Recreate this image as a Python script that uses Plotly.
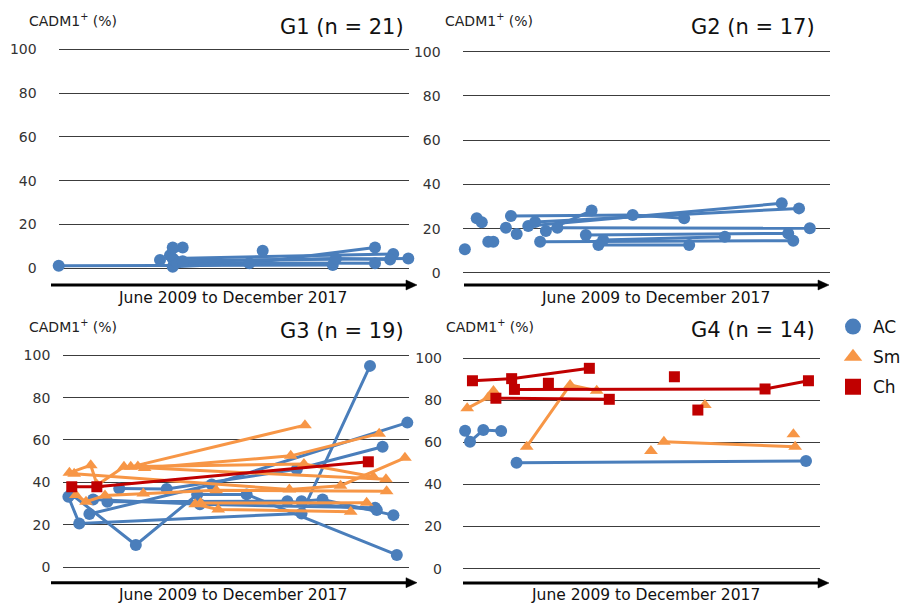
import plotly.graph_objects as go

# x = months since June 2009 (0 = Jun 2009, 102 = Dec 2017); y = CADM1+ (%)
# each inner list is one patient's series of measurements

G1_AC = [
    [(0, 1.2), (79.8, 1.5)],
    [(33.2, 0.7), (55.5, 2.3), (92.1, 9.5)],
    [(33.2, 4.5), (97.4, 6.5)],
    [(33.9, 3.5), (101.8, 4.5)],
    [(34.5, 2.5), (92.1, 2.3)],
    [(32.4, 6.0), (36.1, 9.5)],
    [(36.1, 3.2), (80.7, 4.5), (96.5, 4.0)],
    [(29.5, 3.8)],
    [(33.2, 9.5)],
    [(59.4, 8.0)],
]
G1_Sm = []
G1_Ch = []

G2_AC = [
    [(3.9, 24.7), (5.3, 22.9)],
    [(13.4, 25.8), (47.2, 26.2), (61.5, 24.7)],
    [(18.2, 21.2), (88.6, 31.5)],
    [(20.1, 23.0), (93.4, 29.2)],
    [(23.1, 19.0), (35.8, 28.2)],
    [(26.3, 20.5), (96.4, 20.2)],
    [(34.2, 17.2), (90.4, 17.9)],
    [(39.0, 14.9), (72.8, 16.4)],
    [(21.5, 14.1), (91.8, 14.6)],
    [(37.7, 12.7), (62.9, 12.7)],
    [(0.6, 10.7)],
    [(7.1, 14.1)],
    [(8.5, 14.1)],
    [(12.0, 20.5)],
    [(15.0, 17.6)],
]
G2_Sm = []
G2_Ch = []

G3_AC = [
    [(1.5, 33.2), (4.7, 20.6), (70.3, 25.3), (90.5, 95.0)],
    [(7.7, 25.0), (43.8, 39.0), (101.5, 68.2)],
    [(2.3, 34.5), (21.4, 10.4), (39.5, 34.3), (54.1, 34.3), (98.4, 5.7)],
    [(8.8, 31.9), (40.3, 29.6), (92.0, 28.0)],
    [(13.0, 30.8), (66.1, 31.1), (92.5, 26.9)],
    [(16.5, 37.1), (30.5, 36.8), (68.9, 46.2), (94.2, 56.8)],
    [(70.3, 31.1), (76.5, 31.9), (97.4, 24.5)],
]
G3_Sm = [
    [(1.8, 44.5), (8.1, 48.1), (10.0, 38.7), (17.9, 47.3), (95.2, 41.4)],
    [(3.2, 44.0), (66.7, 36.6), (81.8, 38.4), (100.8, 51.6)],
    [(19.9, 47.3), (71.3, 67.0)],
    [(22.0, 47.5), (71.0, 48.6), (91.5, 42.6)],
    [(24.0, 46.8), (67.1, 52.5), (93.2, 63.0)],
    [(3.7, 34.0), (6.7, 30.8), (12.3, 33.8), (23.6, 34.7), (45.1, 36.3), (95.4, 35.8)],
    [(38.9, 29.6), (45.7, 27.2), (84.8, 26.1)],
    [(40.5, 30.2), (89.5, 30.3)],
]
G3_Ch = [
    [(2.5, 37.9), (9.9, 37.9), (90.0, 49.7)],
]

G4_AC = [
    [(0.6, 65.5), (2.0, 60.3), (5.8, 65.8), (10.9, 65.3)],
    [(15.3, 50.3), (98.0, 51.1)],
]
G4_Sm = [
    [(1.2, 76.1), (7.2, 81.3), (8.7, 84.3)],
    [(18.2, 57.9), (30.6, 87.2), (38.2, 84.5)],
    [(57.4, 60.3), (94.9, 57.9)],
    [(53.7, 55.9)],
    [(69.1, 77.7)],
    [(94.4, 63.8)],
]
G4_Ch = [
    [(2.7, 89.2), (13.9, 90.2), (36.1, 95.1)],
    [(14.7, 85.1), (86.3, 85.3), (98.7, 89.2)],
    [(9.4, 80.9), (41.8, 80.4)],
    [(24.4, 88.0)],
    [(60.4, 91.1)],
    [(67.1, 75.3)],
]

PANEL_TITLES = ["G1 (n = 21)", "G2 (n = 17)", "G3 (n = 19)", "G4 (n = 14)"]
X_LABEL = "June 2009 to December 2017"
Y_LABEL = "CADM1<sup>+</sup> (%)"
Y_TICKS = [0, 20, 40, 60, 80, 100]
GROUP_NAMES = ["AC", "Sm", "Ch"]

# ---------------- styling / layout ----------------
OFF = 8                     # page body margin
W, H = 909 - OFF, 604 - OFF
FONT = "DejaVu Sans"
COL = {"AC": "#4A7EBB", "Sm": "#F79646", "Ch": "#C00000"}
SYM = {"AC": "circle", "Sm": "triangle-up", "Ch": "square"}
MSZ = {"AC": 12, "Sm": 12, "Ch": 11}


def px(x):
    return (x - OFF) / W


def py(y):
    return 1 - (y - OFF) / H


# pixel geometry (window pixels) of each panel
PANELS = [
    dict(x0=58.7, x1=409, p0=268.3, p100=49.3, std=21, arrow=(51, 417, 285),
         lab=(27, 20), title=(406, 27), xl=(232, 298)),
    dict(x0=462.7, x1=830, p0=273, p100=51.7, std=21, arrow=(464, 829, 285),
         lab=(443, 20), title=(817, 27), xl=(655, 298)),
    dict(x0=63.3, x1=409, p0=567, p100=355.3, std=12, arrow=(51, 417, 582.7),
         lab=(27, 326), title=(406, 331), xl=(232, 595)),
    dict(x0=463, x1=820, p0=568.7, p100=358, std=20, arrow=(463, 829, 583),
         lab=(444, 326), title=(817, 330), xl=(645, 595)),
]
DATA = [
    (G1_AC, G1_Sm, G1_Ch),
    (G2_AC, G2_Sm, G2_Ch),
    (G3_AC, G3_Sm, G3_Ch),
    (G4_AC, G4_Sm, G4_Ch),
]
YLO, YHI = -6, 104


def flatten(tracks):
    xs, ys = [], []
    for tr in tracks:
        for x, y in tr:
            xs.append(x)
            ys.append(y)
        xs.append(None)
        ys.append(None)
    return xs, ys


fig = go.Figure()
layout = dict(width=W, height=H, margin=dict(l=0, r=0, t=0, b=0),
              paper_bgcolor="white", plot_bgcolor="white",
              font=dict(family=FONT, color="#222"))
annotations = []
shapes = []

for i, (pan, series) in enumerate(zip(PANELS, DATA)):
    k = "" if i == 0 else str(i + 1)
    ppu = (pan["p0"] - pan["p100"]) / 100.0
    top = pan["p100"] - (YHI - 100) * ppu
    bot = pan["p0"] + (0 - YLO) * ppu
    layout["xaxis" + k] = dict(domain=[px(pan["x0"]), px(pan["x1"])], range=[0, 102],
                               showgrid=False, zeroline=False, showline=False,
                               showticklabels=False, ticks="", anchor="y" + k,
                               fixedrange=True)
    layout["yaxis" + k] = dict(domain=[py(bot), py(top)], range=[YLO, YHI],
                               tickvals=Y_TICKS, showgrid=True, gridcolor="#3c3c3c",
                               gridwidth=1.2, zeroline=False, showline=False,
                               ticks="", ticklabelstandoff=int(pan["std"]),
                               tickfont=dict(size=14, color="#333", family=FONT),
                               anchor="x" + k, fixedrange=True)
    for name, tracks in zip(GROUP_NAMES, series):
        if not tracks:
            continue
        xs, ys = flatten(tracks)
        fig.add_trace(go.Scatter(
            x=xs, y=ys, mode="lines+markers", xaxis="x" + k, yaxis="y" + k,
            line=dict(color=COL[name], width=3),
            marker=dict(color=COL[name], symbol=SYM[name], size=MSZ[name]),
            cliponaxis=False, showlegend=False, connectgaps=False,
            hoverinfo="x+y"))
    # time arrow below each panel
    a0, a1, ay = pan["arrow"]
    hl, hw = 11, 5
    shapes.append(dict(type="line", xref="paper", yref="paper",
                       x0=px(a0), x1=px(a1 - hl + 1), y0=py(ay), y1=py(ay),
                       line=dict(color="black", width=3)))
    shapes.append(dict(type="path", xref="paper", yref="paper",
                       path=f"M {px(a1)} {py(ay)} L {px(a1 - hl)} {py(ay - hw)} "
                            f"L {px(a1 - hl)} {py(ay + hw)} Z",
                       fillcolor="black", line=dict(color="black", width=0.5)))
    annotations.append(dict(xref="paper", yref="paper", x=px(pan["lab"][0]),
                            y=py(pan["lab"][1]), xanchor="left", yanchor="middle",
                            text=Y_LABEL, showarrow=False,
                            font=dict(size=14, color="#222", family=FONT)))
    annotations.append(dict(xref="paper", yref="paper", x=px(pan["title"][0]),
                            y=py(pan["title"][1]), xanchor="right", yanchor="middle",
                            text=PANEL_TITLES[i], showarrow=False,
                            font=dict(size=21, color="#111", family=FONT)))
    annotations.append(dict(xref="paper", yref="paper", x=px(pan["xl"][0]),
                            y=py(pan["xl"][1]), xanchor="center", yanchor="middle",
                            text=X_LABEL, showarrow=False,
                            font=dict(size=15.5, color="#111", family=FONT)))

# legend entries (marker-only)
for j, name in enumerate(GROUP_NAMES):
    fig.add_trace(go.Scatter(
        x=[None], y=[None], mode="markers", name=name, xaxis="x4", yaxis="y4",
        marker=dict(color=COL[name], symbol=SYM[name], size=16),
        legendgroup=name, showlegend=True))

layout["annotations"] = annotations
layout["shapes"] = shapes
layout["legend"] = dict(x=px(833), y=py(309), xanchor="left", yanchor="top",
                        font=dict(size=17, color="#111", family=FONT),
                        bgcolor="rgba(0,0,0,0)", tracegroupgap=5,
                        traceorder="grouped", itemsizing="trace")
fig.update_layout(**layout)
fig.write_html("out.html")
